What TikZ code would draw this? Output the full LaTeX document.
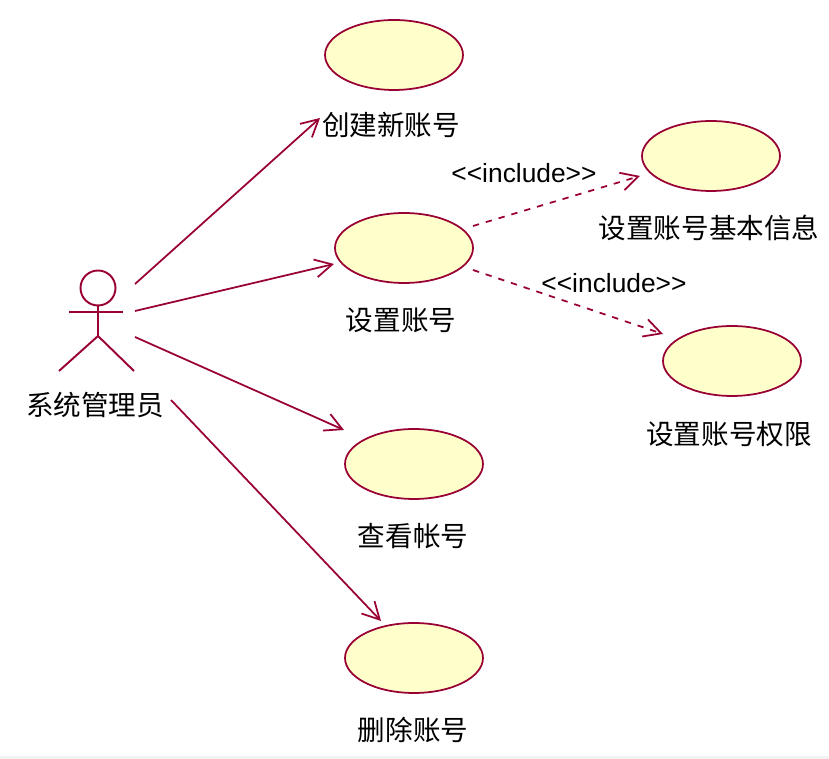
\documentclass[tikz,border=0pt]{standalone}
\usepackage{fontspec}
\usepackage{xcolor}
\usetikzlibrary{shapes.geometric, arrows.meta}
\setmainfont{Noto Sans CJK SC}
\newfontfamily\latinfont{Liberation Sans}
\definecolor{cLine}{RGB}{153,0,51}
\definecolor{cCase}{RGB}{255,255,204}
\definecolor{cStrip}{RGB}{243,243,243}
\tikzset{
    usecase/.style={ellipse, minimum width=2.76cm, minimum height=1.4cm, inner sep=0pt, draw=cLine, fill=cCase, line width=1pt},
    caselabel/.style={inner sep=0pt, font=\fontsize{15.7pt}{18pt}\selectfont},
    steplabel/.style={inner sep=0pt, font=\latinfont\fontsize{15pt}{18pt}\selectfont},
    actorline/.style={draw=cLine, line width=1.1pt},
    assoc/.style={-{Straight Barb[length=3.4mm,width=3.6mm]}, draw=cLine, line width=1pt},
    incl/.style={assoc, dash pattern=on 3.6pt off 4pt},
}
\begin{document}
\begin{tikzpicture}[x=0.02cm, y=-0.02cm]
                \useasboundingbox (0,0) rectangle (829,759);
                \fill[cStrip] (0,756) rectangle (829,759);
                % use cases
                \node[usecase] (create) at (394,55){};
                \node[usecase] (setacct) at (404,248){};
                \node[usecase] (basic) at (711,156){};
                \node[usecase] (rights) at (732,361){};
                \node[usecase] (view) at (414,464){};
                \node[usecase] (remove) at (414,658){};
                \node[caselabel] (createtxt) at (391,125){创建新账号};
                \node[caselabel] (setaccttxt) at (401,320){设置账号};
                \node[caselabel] (basictxt) at (709,228){设置账号基本信息};
                \node[caselabel] (rightstxt) at (729,434){设置账号权限};
                \node[caselabel] (viewtxt) at (413,536){查看帐号};
                \node[caselabel] (removetxt) at (413,730){删除账号};
                % actor
                \node[circle, actorline, minimum size=0.7cm, inner sep=0pt] (head) at (98,288){};
                \coordinate (hip) at (98,336);
                \coordinate (handl) at (69,312);
                \coordinate (handr) at (123,312);
                \coordinate (footl) at (59,371);
                \coordinate (footr) at (134,371);
                \draw[actorline](head.south)--(hip);
                \draw[actorline](handl)--(handr);
                \draw[actorline](footl)--(hip)--(footr);
                \node[caselabel] (admin) at (95,405){系统管理员};
                % associations
                \coordinate (from1) at (135,284);
                \coordinate (from2) at (135,311);
                \coordinate (from3) at (135,337);
                \coordinate (from4) at (171,400);
                \coordinate (to1) at (320,118);
                \coordinate (to2) at (334,264);
                \coordinate (to3) at (344,430);
                \coordinate (to4) at (381,621);
                \draw[assoc](from1)--(to1);
                \draw[assoc](from2)--(to2);
                \draw[assoc](from3)--(to3);
                \draw[assoc](from4)--(to4);
                % includes
                \coordinate (from5) at (473,226);
                \coordinate (from6) at (473,270);
                \coordinate (to5) at (640,176);
                \coordinate (to6) at (663,334);
                \draw[incl](from5)--(to5);
                \draw[incl](from6)--(to6);
                \node[steplabel] (incl1) at (524,173){<<include>>};
                \node[steplabel] (incl2) at (614,283){<<include>>};
            \end{tikzpicture}
\end{document}
